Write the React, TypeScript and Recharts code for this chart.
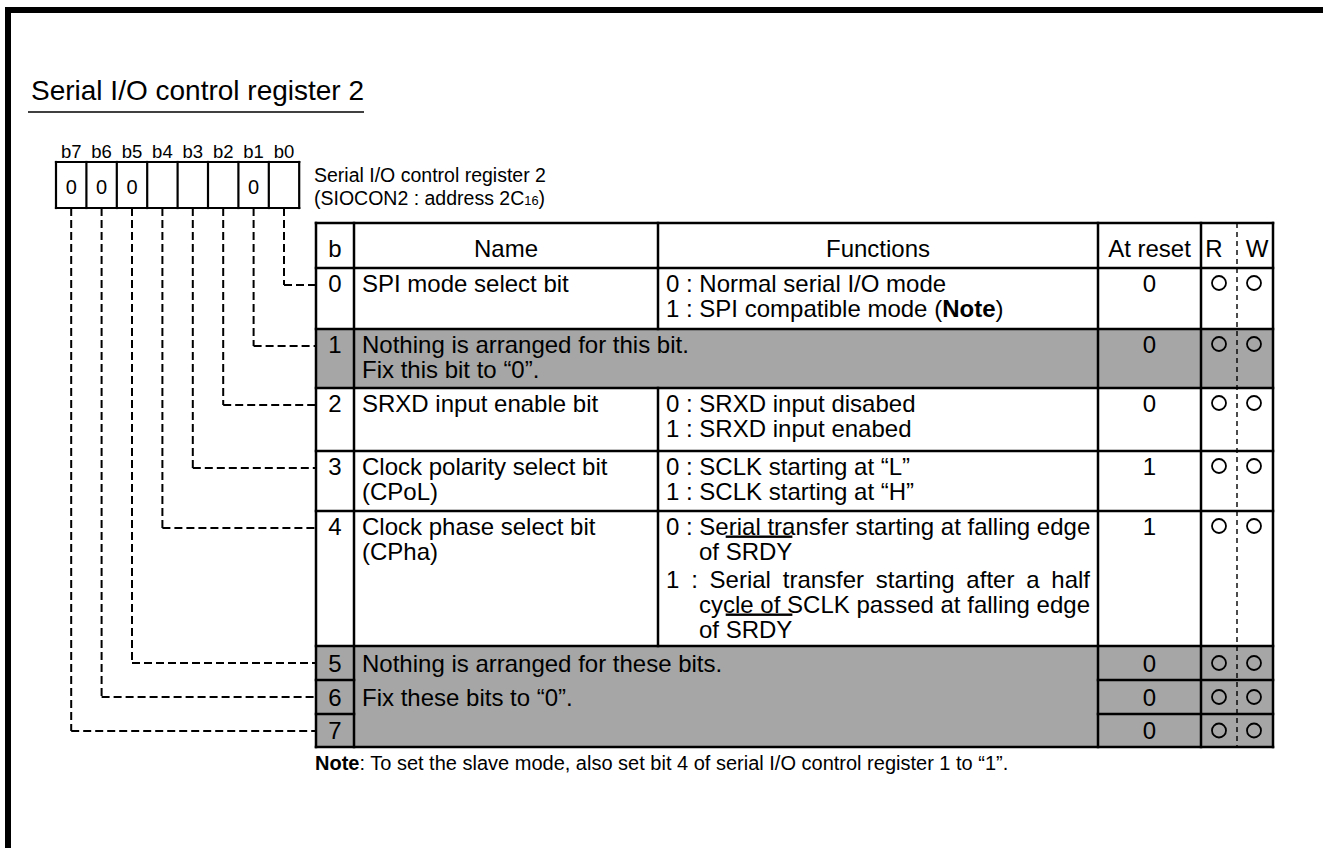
import React, { useLayoutEffect, useRef, useState } from 'react';
import { ScatterChart, XAxis, YAxis, Scatter, ReferenceLine, ReferenceArea } from 'recharts';

const W = 1323;
const H = 848;
const FONT = "'Liberation Sans', Arial, Helvetica, sans-serif";
const GRAY = '#a6a6a6';

// register content
const title = 'Serial I/O control register 2';
const registerLabel = ['Serial I/O control register 2', '(SIOCON2 : address 2C_16_)'];
const bitLabels = ['b7', 'b6', 'b5', 'b4', 'b3', 'b2', 'b1', 'b0'];
const bitValues = ['0', '0', '0', '', '', '', '0', ''];
const headers = ['b', 'Name', 'Functions', 'At reset', 'R', 'W'];
const bitNumbers = ['0', '1', '2', '3', '4', '5', '6', '7'];
const bitNames = [
  ['SPI mode select bit'],
  ['Nothing is arranged for this bit.', 'Fix this bit to “0”.'],
  ['SRXD input enable bit'],
  ['Clock polarity select bit', '(CPoL)'],
  ['Clock phase select bit', '(CPha)'],
  ['Nothing is arranged for these bits.', 'Fix these bits to “0”.'],
  [],
  [],
];
const reserved = [false, true, false, false, false, true, true, true];
const bitFunctions: string[][][] = [
  [['0 : Normal serial I/O mode'], ['1 : SPI compatible mode (**Note**)']],
  [],
  [['0 : SRXD input disabed'], ['1 : SRXD input enabed']],
  [['0 : SCLK starting at “L”'], ['1 : SCLK starting at “H”']],
  [
    ['0 : Serial transfer starting at falling edge', 'of ~SRDY~'],
    ['1 : Serial transfer starting after a half', 'cycle of SCLK passed at falling edge', 'of ~SRDY~'],
  ],
  [],
  [],
  [],
];
const resetValues = ['0', '0', '0', '1', '1', '0', '0', '0'];
const readable = [true, true, true, true, true, true, true, true];
const writable = [true, true, true, true, true, true, true, true];
const note = '**Note**: To set the slave mode, also set bit 4 of serial I/O control register 1 to “1”.';

// layout
const box = { left: 56, top: 162, cell: 30.4, height: 46 };
const col = { left: 316, name: 354, fn: 658, reset: 1098, r: 1201, w: 1237, right: 1273 };
const tableTop = 223;
const headerH = 45;
const rowHeights = [61, 59, 63, 60, 135, 34, 34, 33];
const rowTops = rowHeights.reduce((acc, h, i) => [...acc, acc[i] + h], [tableTop + headerH]);
const tableBottom = rowTops[rowTops.length - 1];
const LINE = 25;
const ITEM_GAP = 3;
const INDENT = 33;
const FN_RIGHT = 1090;

const firstBaseline = (i: number) =>
  rowTops[i] + (rowHeights[i] < 40 ? rowHeights[i] / 2 + 8.5 : 23.5);

const parts = (s: string) => s.split(/(\*\*[^*]+\*\*|~[^~]+~|_[^_]+_)/).filter(Boolean);

function RichText({ x, y, text, size, anchor = 'start', justify }: any) {
  const ref = useRef<SVGTextElement>(null);
  const [ws, setWs] = useState(0);
  useLayoutEffect(() => {
    if (!justify || !ref.current) return;
    const natural = ref.current.getComputedTextLength();
    const gaps = (text.match(/ /g) || []).length;
    if (gaps && justify > natural) setWs((justify - natural) / gaps);
  }, [text, justify]);
  return (
    <text
      ref={ref}
      x={x}
      y={y}
      fontSize={size}
      fontFamily={FONT}
      textAnchor={anchor}
      fill="#000"
      style={{ wordSpacing: ws }}
    >
      {parts(text).map((p, k) => {
        if (p.startsWith('**')) return <tspan key={k} fontWeight="bold">{p.slice(2, -2)}</tspan>;
        if (p.startsWith('~')) return <tspan key={k} style={{ textDecoration: 'overline' }}>{p.slice(1, -1)}</tspan>;
        if (p.startsWith('_')) return <tspan key={k} fontSize={size * 0.66}>{p.slice(1, -1)}</tspan>;
        return <tspan key={k}>{p}</tspan>;
      })}
    </text>
  );
}

type Label = { x: number; y: number; text: string; size: number; anchor?: string; justify?: number };
type Seg = { x1: number; y1: number; x2: number; y2: number };

// text marks
const labels: Label[] = [];
labels.push({ x: 31, y: 100, text: title, size: 28 });
bitLabels.forEach((t, k) =>
  labels.push({ x: box.left + (k + 0.5) * box.cell, y: 158, text: t, size: 18.5, anchor: 'middle' })
);
bitValues.forEach((t, k) => {
  if (t) labels.push({ x: box.left + (k + 0.5) * box.cell, y: 193.5, text: t, size: 20, anchor: 'middle' });
});
registerLabel.forEach((t, k) => labels.push({ x: 314, y: 182 + k * 23, text: t, size: 19.5 }));

const headerCenters = [
  (col.left + col.name) / 2,
  (col.name + col.fn) / 2,
  (col.fn + col.reset) / 2,
  (col.reset + col.r) / 2,
  col.r + 13,
  col.w + 20,
];
headers.forEach((t, k) =>
  labels.push({ x: headerCenters[k], y: 257, text: t, size: 24, anchor: 'middle' })
);

bitNumbers.forEach((n, i) => {
  const base = firstBaseline(i);
  labels.push({ x: headerCenters[0], y: base, text: n, size: 24, anchor: 'middle' });
  labels.push({ x: headerCenters[3], y: base, text: resetValues[i], size: 24, anchor: 'middle' });
  let groupSize = 1;
  while (reserved[i] && reserved[i + groupSize] && bitNames[i + groupSize].length === 0) groupSize++;
  bitNames[i].forEach((t, j) => {
    const y = reserved[i] && j < groupSize ? firstBaseline(i + j) : base + j * LINE;
    labels.push({ x: col.name + 8, y, text: t, size: 24 });
  });
  let y = base;
  bitFunctions[i].forEach((item, m) => {
    if (m > 0 && bitFunctions[i][m - 1].length > 1) y += ITEM_GAP;
    item.forEach((t, j) => {
      const x = col.fn + 8 + (j > 0 ? INDENT : 0);
      const justify = item.length > 1 && j < item.length - 1 ? FN_RIGHT - x : undefined;
      labels.push({ x, y, text: t, size: 24, justify });
      y += LINE;
    });
  });
});
labels.push({ x: 315, y: 769.5, text: note, size: 20 });

// R / W circles
const circles: { x: number; y: number }[] = [];
bitNumbers.forEach((_, i) => {
  const cy = firstBaseline(i) - 8.5;
  if (readable[i]) circles.push({ x: col.r + 18, y: cy });
  if (writable[i]) circles.push({ x: col.w + 17, y: cy });
});

// solid table rules
const solid: Seg[] = [];
const hLine = (y: number, x1: number, x2: number) => solid.push({ x1, y1: y, x2, y2: y });
const vLine = (x: number, y1: number, y2: number) => solid.push({ x1: x, y1, x2: x, y2 });
hLine(tableTop, col.left, col.right);
rowTops.forEach((y, i) => {
  const inGroup = i > 0 && i < bitNumbers.length && reserved[i] && reserved[i - 1] && bitNames[i].length === 0;
  if (inGroup) {
    hLine(y, col.left, col.name);
    hLine(y, col.reset, col.right);
  } else {
    hLine(y, col.left, col.right);
  }
});
vLine(col.left, tableTop, tableBottom);
vLine(col.name, tableTop, tableBottom);
vLine(col.reset, tableTop, tableBottom);
vLine(col.r, tableTop, tableBottom);
vLine(col.right, tableTop, tableBottom);
vLine(col.fn, tableTop, rowTops[0]);
bitNumbers.forEach((_, i) => {
  if (!reserved[i]) vLine(col.fn, rowTops[i], rowTops[i + 1]);
});

// bit box
const boxSegs: Seg[] = [];
boxSegs.push({ x1: box.left, y1: box.top, x2: box.left + 8 * box.cell, y2: box.top });
boxSegs.push({ x1: box.left, y1: box.top + box.height, x2: box.left + 8 * box.cell, y2: box.top + box.height });
for (let k = 0; k <= 8; k++) {
  boxSegs.push({ x1: box.left + k * box.cell, y1: box.top, x2: box.left + k * box.cell, y2: box.top + box.height });
}

// dashed leaders from the bit box to each row
const leaders: Seg[] = [];
bitNumbers.forEach((_, i) => {
  const cx = box.left + (7 - i + 0.5) * box.cell;
  const cy = rowTops[i] + 17;
  leaders.push({ x1: cx, y1: box.top + box.height, x2: cx, y2: cy });
  leaders.push({ x1: cx, y1: cy, x2: col.left, y2: cy });
});

// gray reserved bands
const bands: { y1: number; y2: number }[] = [];
bitNumbers.forEach((_, i) => {
  if (reserved[i]) bands.push({ y1: rowTops[i], y2: rowTops[i + 1] });
});

const seg = (s: Seg): [{ x: number; y: number }, { x: number; y: number }] => [
  { x: s.x1, y: s.y1 },
  { x: s.x2, y: s.y2 },
];

export default function App() {
  return (
    <div style={{ position: 'absolute', left: 0, top: 0, background: '#fff' }}>
      <ScatterChart width={W} height={H} margin={{ top: 0, right: 0, bottom: 0, left: 0 }}>
        <XAxis type="number" dataKey="x" domain={[0, W]} allowDataOverflow hide />
        <YAxis type="number" dataKey="y" domain={[0, H]} allowDataOverflow reversed hide />
        {bands.map((b, k) => (
          <ReferenceArea
            key={`band${k}`}
            x1={col.left}
            x2={col.right}
            y1={b.y1}
            y2={b.y2}
            fill={GRAY}
            fillOpacity={1}
            stroke="none"
          />
        ))}
        {/* page frame */}
        <ReferenceLine segment={[{ x: 5, y: 10 }, { x: W, y: 10 }]} stroke="#000" strokeWidth={6} />
        <ReferenceLine segment={[{ x: 8, y: 7 }, { x: 8, y: H }]} stroke="#000" strokeWidth={6} />
        {/* title underline */}
        <ReferenceLine segment={[{ x: 28, y: 112 }, { x: 364, y: 112 }]} stroke="#000" strokeWidth={1.5} />
        {boxSegs.map((s, k) => (
          <ReferenceLine key={`box${k}`} segment={seg(s)} stroke="#000" strokeWidth={2.2} strokeLinecap="square" />
        ))}
        {leaders.map((s, k) => (
          <ReferenceLine key={`lead${k}`} segment={seg(s)} stroke="#000" strokeWidth={2} strokeDasharray="8 4" />
        ))}
        <ReferenceLine
          segment={[{ x: col.w, y: tableTop }, { x: col.w, y: tableBottom }]}
          stroke="#000"
          strokeWidth={1.4}
          strokeDasharray="5 4"
        />
        {solid.map((s, k) => (
          <ReferenceLine key={`rule${k}`} segment={seg(s)} stroke="#000" strokeWidth={2.5} strokeLinecap="square" />
        ))}
        <Scatter
          name="rw"
          data={circles}
          isAnimationActive={false}
          shape={(p: any) => <circle cx={p.cx} cy={p.cy} r={7} fill="none" stroke="#000" strokeWidth={1.8} />}
        />
        <Scatter
          name="text"
          data={labels}
          isAnimationActive={false}
          shape={(p: any) => <RichText {...p.payload} x={p.cx} y={p.cy} />}
        />
      </ScatterChart>
    </div>
  );
}
